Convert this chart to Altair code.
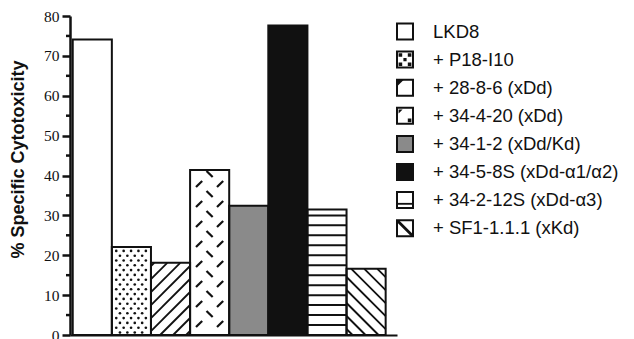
import altair as alt
import pandas as pd

# ---------------- data ----------------
categories = ["LKD8", "+ P18-I10", "+ 28-8-6 (xDd)", "+ 34-4-20 (xDd)",
              "+ 34-1-2 (xDd/Kd)", "+ 34-5-8S (xDd-\u03b11/\u03b12)",
              "+ 34-2-12S (xDd-\u03b13)", "+ SF1-1.1.1 (xKd)"]
values = [74.1, 22.1, 18.1, 41.4, 32.4, 77.6, 31.5, 16.6]
y_major_ticks = list(range(0, 81, 10))
y_minor_ticks = list(range(5, 80, 10))

# ---------------- styles ----------------
bar_fills = ["#ffffff", "#ffffff", "#ffffff", "#ffffff",
             "#8a8a8a", "#111111", "#ffffff", "#ffffff"]
glyph_paths = [
    "M0,0",
    "M-0.8,-0.8h0.45v0.45h-0.45Z M0.35,-0.8h0.45v0.45h-0.45Z M-0.8,0.35h0.45v0.45h-0.45Z M0.35,0.35h0.45v0.45h-0.45Z M-0.2,-0.2h0.4v0.4h-0.4Z",
    "M-1,-1L-0.15,-1L-1,-0.15Z",
    "M-0.8,-0.8L-0.3,-0.8L-0.8,-0.3Z M0.35,0.35h0.45v0.45h-0.45Z",
    "M0,0",
    "M0,0",
    "M-1,0.35H1V0.58H-1Z",
    "M-1,-1L-0.75,-1L1,0.75L1,1L0.75,1L-1,-0.75Z",
]

PLOT_W, PLOT_H = 327, 319
X_DOMAIN = [-0.07, 8.29]
Y_DOMAIN = [0, 80]
KX = PLOT_W / (X_DOMAIN[1] - X_DOMAIN[0])   # px per bar
KY = PLOT_H / (Y_DOMAIN[1] - Y_DOMAIN[0])   # px per % unit
S = 13.0          # vertical spacing of diagonal hatch lines (px)
INK = "#111111"

df = pd.DataFrame({"cat": categories, "val": values,
                   "idx": list(range(len(categories)))})
minor_df = pd.DataFrame({"t": y_minor_ticks})

xs = alt.Scale(domain=X_DOMAIN, nice=False, zero=False)
ys = alt.Scale(domain=Y_DOMAIN, nice=False, zero=True)
fill_scale = alt.Scale(domain=categories, range=bar_fills)

# the same axis objects are given to every layer so that they merge cleanly
x_axis = alt.Axis(title=None, labels=False, ticks=False, grid=False,
                  domainColor=INK, domainWidth=2)
y_axis = alt.Axis(values=y_major_ticks, grid=False, orient="left",
                  title="% Specific Cytotoxicity", labelOverlap=False,
                  tickSize=8, tickWidth=2.5, tickColor=INK,
                  domainWidth=2.5, domainColor=INK,
                  labelFont="Liberation Serif", labelFontSize=15.5, labelColor=INK,
                  labelPadding=3,
                  titleFont="Liberation Sans", titleFontSize=18, titleFontWeight="bold",
                  titleColor=INK, titleX=-43, titleY=143)


def X(field):
    return alt.X(field, scale=xs, axis=x_axis)


def Y(field):
    return alt.Y(field, scale=ys, axis=y_axis)


base = alt.Chart(df)

bars = base.transform_calculate(x2="datum.idx + 1", y0="0").mark_rect(strokeWidth=0).encode(
    x=X("idx:Q"), x2="x2:Q", y=Y("val:Q"), y2="y0:Q",
    fill=alt.Fill("cat:N", scale=fill_scale, legend=None),
)

minor = alt.Chart(minor_df).mark_rule(strokeWidth=2.5, color=INK).encode(
    x=alt.value(-4), x2=alt.value(0), y=Y("t:Q"),
)

# dotted pattern (bar 2)
dots = base.transform_filter("datum.idx == 1").transform_calculate(
    r=f"sequence(0, floor(datum.val * {KY} / 4.8) + 1)"
).transform_flatten(["r"]).transform_calculate(
    k="sequence(0, 7)"
).transform_flatten(["k"]).transform_calculate(
    px="0.7 + 7.4 * datum.k + (datum.r % 2) * 3.7",
    py="2.5 + 4.8 * datum.r"
).transform_filter(
    f"datum.px > 2 && datum.px < {KX - 2} && datum.py < datum.val * {KY} - 2"
).transform_calculate(
    qx=f"datum.idx + datum.px / {KX}", qy=f"datum.py / {KY}"
).mark_point(shape="circle", filled=True, size=7, color=INK, opacity=1).encode(
    x=X("qx:Q"), y=Y("qy:Q"),
)

# rising diagonal hatch (bar 3)
rising = base.transform_filter("datum.idx == 2").transform_calculate(
    H=f"datum.val * {KY}",
    c=f"sequence({-KX + 4}, datum.val * {KY}, {S})"
).transform_flatten(["c"]).transform_calculate(
    u0="max(0, -datum.c)", u1=f"min({KX}, datum.H - datum.c)"
).transform_filter("datum.u1 - datum.u0 > 1").transform_calculate(
    lx=f"datum.idx + datum.u0 / {KX}", lx2=f"datum.idx + datum.u1 / {KX}",
    ly=f"(datum.u0 + datum.c) / {KY}", ly2=f"(datum.u1 + datum.c) / {KY}"
).mark_rule(strokeWidth=1.8, color=INK).encode(
    x=X("lx:Q"), x2="lx2:Q", y=Y("ly:Q"), y2="ly2:Q",
)

# falling diagonal hatch (bar 8)
falling = base.transform_filter("datum.idx == 7").transform_calculate(
    H=f"datum.val * {KY}",
    c=f"sequence(6, datum.val * {KY} + {KX}, {S})"
).transform_flatten(["c"]).transform_calculate(
    u0="max(0, datum.c - datum.H)", u1=f"min({KX}, datum.c)"
).transform_filter("datum.u1 - datum.u0 > 1").transform_calculate(
    lx=f"datum.idx + datum.u0 / {KX}", lx2=f"datum.idx + datum.u1 / {KX}",
    ly=f"(datum.c - datum.u0) / {KY}", ly2=f"(datum.c - datum.u1) / {KY}"
).mark_rule(strokeWidth=1.8, color=INK).encode(
    x=X("lx:Q"), x2="lx2:Q", y=Y("ly:Q"), y2="ly2:Q",
)

# horizontal stripes (bar 7)
stripes = base.transform_filter("datum.idx == 6").transform_calculate(
    s="sequence(2.5, datum.val - 0.6, 2.5)", x2="datum.idx + 1"
).transform_flatten(["s"]).mark_rule(strokeWidth=2, color=INK).encode(
    x=X("idx:Q"), x2="x2:Q", y=Y("s:Q"),
)

# dash pattern (bar 4)
dashes = base.transform_filter("datum.idx == 3").transform_calculate(
    j="sequence(0, 3)"
).transform_flatten(["j"]).transform_calculate(
    n=f"sequence(0, ceil(datum.val * {KY} / 20) + 1)"
).transform_flatten(["n"]).transform_calculate(
    px="9 + 10.5 * datum.j",
    py="(datum.j % 2 === 0 ? 11 : 1) + 20 * datum.n",
    dir="datum.j % 2 === 0 ? 'up' : 'down'"
).transform_filter(f"datum.py > 4 && datum.py < datum.val * {KY} - 4").transform_calculate(
    qx=f"datum.idx + datum.px / {KX}", qy=f"datum.py / {KY}"
).mark_point(filled=False, size=38, strokeWidth=2.2, color=INK, opacity=1).encode(
    x=X("qx:Q"), y=Y("qy:Q"),
    shape=alt.Shape("dir:N", scale=alt.Scale(domain=["up", "down"],
                                             range=["M-1,1L1,-1", "M-1,-1L1,1"]),
                    legend=None),
)

outline = base.transform_calculate(x2="datum.idx + 1", y0="0").mark_rect(
    fill="transparent", stroke=INK, strokeWidth=2).encode(
    x=X("idx:Q"), x2="x2:Q", y=Y("val:Q"), y2="y0:Q",
)

# ---------------- legend (rows placed through the shared y scale) ----------------
LEG_TOP, LEG_STEP = 15.5, 28.1
SW_X, TX = 335, 363
leg = base.transform_calculate(
    ry=f"({PLOT_H} - ({LEG_TOP} + {LEG_STEP} * datum.idx)) / {KY}"
)

swatch = leg.mark_point(shape="square", size=256, filled=True, stroke=INK,
                        strokeWidth=2, opacity=1).encode(
    x=alt.value(SW_X), y=Y("ry:Q"),
    fill=alt.Fill("cat:N", scale=fill_scale, legend=None),
)
glyph = leg.mark_point(filled=True, size=256, color=INK, opacity=1, strokeWidth=0).encode(
    x=alt.value(SW_X), y=Y("ry:Q"),
    shape=alt.Shape("cat:N", scale=alt.Scale(domain=categories, range=glyph_paths),
                    legend=None),
)
labels = leg.mark_text(align="left", baseline="middle", font="Liberation Sans",
                       fontSize=18.5, color=INK).encode(
    x=alt.value(TX), y=Y("ry:Q"), text="cat:N",
)

chart = alt.layer(
    bars, dots, rising, falling, stripes, dashes, outline, minor,
    swatch, glyph, labels
).resolve_scale(shape="independent").properties(
    width=PLOT_W, height=PLOT_H, background="white",
    padding={"left": 62, "top": 8, "right": 229, "bottom": 4},
    autosize=alt.AutoSizeParams(type="none"),
).configure_view(strokeWidth=0)

chart.save("out.html", embed_options={"renderer": "svg", "actions": False})
